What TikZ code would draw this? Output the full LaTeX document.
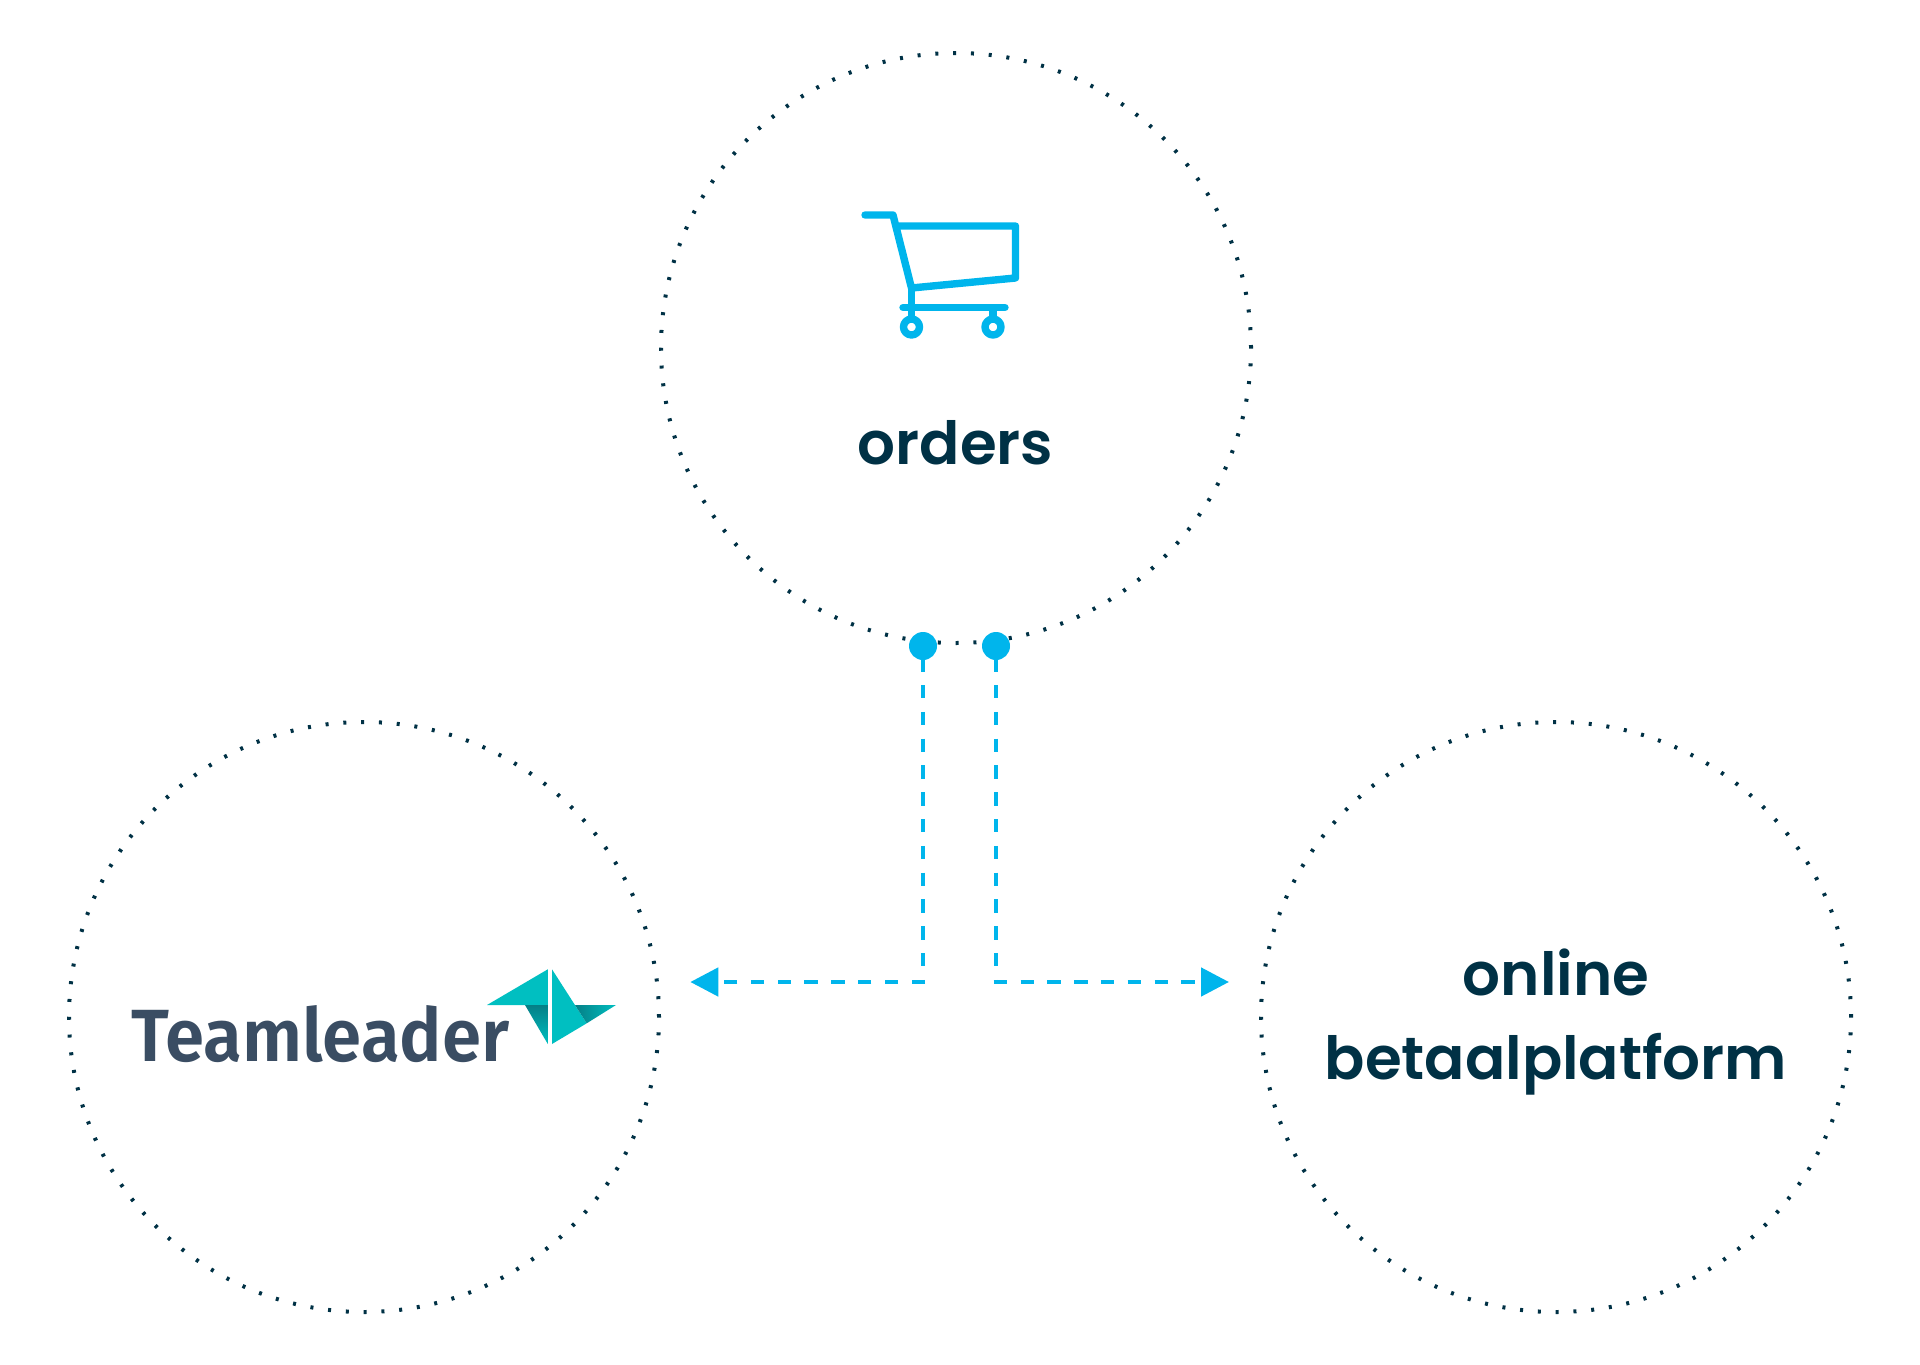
\documentclass[tikz,border=0pt]{standalone}
\usepackage{fontspec}
\newfontfamily\labelfont{Poppins SemiBold}
\newfontfamily\logofont[FakeStretch=0.957]{Fira Sans SemiBold}
\usetikzlibrary{arrows.meta,shapes.geometric}
\definecolor{ink}{HTML}{003145}
\definecolor{sky}{HTML}{00B5EC}
\definecolor{slate}{HTML}{3A4D63}
\definecolor{teal}{HTML}{00BFC1}
\definecolor{tealdark}{HTML}{057F86}
\tikzset{
  x=1pt,y=-1pt,
  ring/.style={circle,draw=ink,line width=4pt,line cap=butt,dash pattern=on 3pt off 14.82pt,minimum size=590pt,inner sep=0pt},
  bullet/.style={circle,fill=sky,minimum size=28pt,inner sep=0pt},
  link/.style={draw=sky,line width=4.8pt},
  vlink/.style={link,dash pattern=on 13.4pt off 13.4pt},
  hlink/.style={link,dash pattern=on 13.4pt off 13.4pt},
  tip/.style={-{Triangle[length=28pt,width=28pt,fill=sky]}},
  label/.style={text=ink,font=\labelfont\fontsize{59.5}{84}\selectfont,align=center,inner sep=0pt},
  cart/.style={draw=sky,line width=7.4pt,line cap=round,line join=round},
}
\begin{document}
\begin{tikzpicture}
\useasboundingbox (0,0) rectangle (1920,1365);
\node[ring] (top) at (956,348) {};
\node[ring] (left) at (364,1017) {};
\node[ring] (right) at (1556,1017) {};
% cart
\draw[cart] (865,215) -- (893,215) -- (911.5,288) -- (1015.5,278) -- (1015.5,226) -- (897,226);
\draw[cart] (911.5,288) -- (911.5,316);
\draw[cart] (903,307.5) -- (1005,307.5);
\draw[cart,line cap=butt] (993,307.5) -- (993,316);
\draw[cart] (911.5,327) circle (8pt);
\draw[cart] (993,327) circle (8pt);
\node[label] (orders) at (955.5,443) {orders};
\node[label] (online) at (1556,1022) {online\\betaalplatform};
% logo
\node[anchor=base west,inner sep=0pt,text=slate,font=\logofont\fontsize{74}{74}\selectfont] (logo) at (131,1061) {Teamleader};
\fill[teal] (487,1005) -- (547.8,969.3) -- (547.8,1005) -- cycle;
\shade[top color=tealdark,bottom color=teal] (525,1005) -- (547.8,1005) -- (547.8,1044) -- cycle;
\fill[teal] (552,969.3) -- (586.7,1023.3) -- (552,1044) -- cycle;
\shade[left color=tealdark,right color=teal] (575,1005) -- (616,1005) -- (586.7,1023.3) -- cycle;
% connectors
\node[bullet] (a) at (923,646) {};
\node[bullet] (b) at (996,646) {};
\coordinate (ca) at (923,982);
\coordinate (cb) at (996,982);
\coordinate (cal) at (925,982);
\coordinate (cbr) at (993.7,982);
\coordinate (tl) at (690.3,982);
\coordinate (tr) at (1229,982);
\draw[vlink,dash phase=2pt] (a.south) -- (ca);
\draw[vlink,dash phase=2pt] (b.south) -- (cb);
\draw[hlink,tip] (cal) -- (tl);
\draw[hlink,tip] (cbr) -- (tr);
\end{tikzpicture}
\end{document}
